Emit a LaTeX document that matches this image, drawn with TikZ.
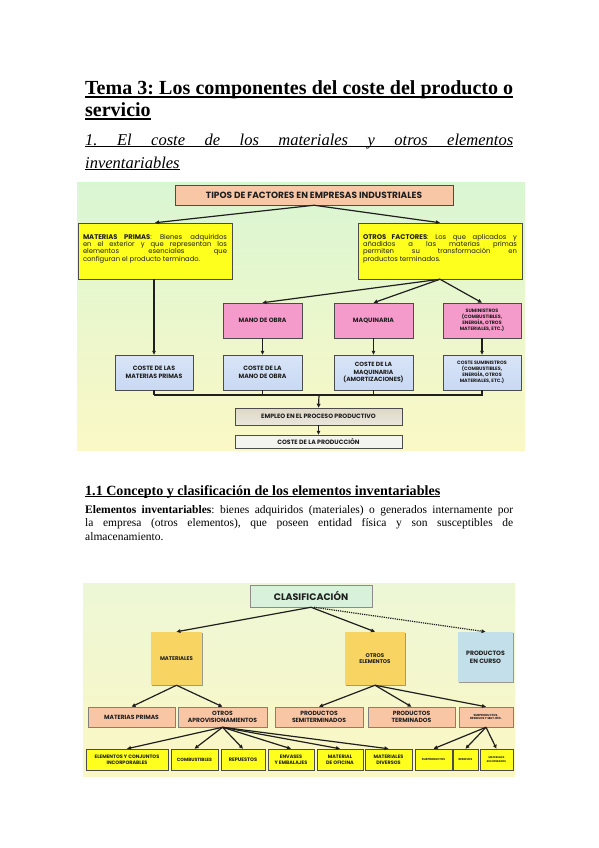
\documentclass[tikz,border=0pt]{standalone}
\usepackage{fontspec}
\setmainfont{Liberation Serif}
\newfontfamily\dg{Poppins}
\usetikzlibrary{arrows.meta,shadows}
\definecolor{txt}{HTML}{1E1E1E}
\definecolor{bgOneTop}{HTML}{D9F6D3}
\definecolor{bgOneBot}{HTML}{FBF8C6}
\definecolor{bgTwoTop}{HTML}{EDF7D6}
\definecolor{bgTwoBot}{HTML}{FBF7C4}
\definecolor{peach}{HTML}{F8C8A6}
\definecolor{yel}{HTML}{FFFF1E}
\definecolor{pinkb}{HTML}{F59BCB}
\definecolor{blueb}{HTML}{C8D9F3}
\definecolor{tan}{HTML}{DDD7C6}
\definecolor{paleg}{HTML}{F3F3F0}
\definecolor{mint}{HTML}{D7F1DB}
\definecolor{gold}{HTML}{F8D462}
\definecolor{skyb}{HTML}{C3E0EA}
\definecolor{salm}{HTML}{F8C5A5}
\newsavebox\ulbox
\newcommand\myul[1]{\sbox\ulbox{#1}\rlap{\rule[-0.14em]{\wd\ulbox}{0.07em}}\usebox\ulbox}
\newcommand\dsz[1]{\dg\bfseries\fontsize{#1}{\the\dimexpr #1pt*5/4\relax}\selectfont}
\begin{document}
\frenchspacing
\begin{tikzpicture}[x=1pt,y=-1pt,
  box/.style={draw=black!70, line width=0.5pt, align=center, inner sep=1pt, text=txt,
    drop shadow={shadow xshift=1.2pt, shadow yshift=-1.2pt, fill=black!55, opacity=0.7}},
  arr/.style={-{Triangle[length=4pt,width=3.6pt]}, line width=1.2pt, draw=black!88},
  ln/.style={line width=1.2pt, draw=black!88},
  dfont/.style={font=\dsz{#1}},
  para/.style={font=\dg\fontsize{6.8}{7.4}\selectfont, align=justify},
]
\useasboundingbox (0,0) rectangle (599,848);
\fill[white] (0,0) rectangle (599,848);

% ---------- headings ----------
\node[anchor=base west, inner sep=0] (t1) at (85,95)
  {\fontsize{20}{22}\selectfont\bfseries\myul{\makebox[428pt][s]{Tema 3: Los componentes del coste del producto o}}};
\node[anchor=base west, inner sep=0] (t2) at (85,117)
  {\fontsize{20}{22}\selectfont\bfseries\myul{servicio}};
\node[anchor=base west, inner sep=0] (s1) at (85,145)
  {\fontsize{16.5}{20}\selectfont\itshape\myul{\makebox[428pt][s]{1. El coste de los materiales y otros elementos}}};
\node[anchor=base west, inner sep=0] (s2) at (85,168)
  {\fontsize{16.5}{20}\selectfont\itshape\myul{inventariables}};

% ---------- diagram 1 ----------
\shade[top color=bgOneTop, bottom color=bgOneBot] (77,182) rectangle (525,450);

\node[box, fill=peach, minimum width=278pt, minimum height=20pt, dfont=9] (tipos) at (314,195)
  {TIPOS DE FACTORES EN EMPRESAS INDUSTRIALES};
\node[box, fill=yel, minimum width=154pt, minimum height=56pt] (mp) at (155,251) {};
\node[para, text width=144pt, inner sep=0, text=txt] (mpt) at (155,248.5)
  {\textbf{MATERIAS PRIMAS}: Bienes adquiridos\linebreak en el exterior y que representan los\linebreak elementos esenciales que\linebreak configuran el producto terminado.};
\node[box, fill=yel, minimum width=164pt, minimum height=56pt] (of) at (440,251) {};
\node[para, text width=154pt, inner sep=0, text=txt] (oft) at (440,248.5)
  {\textbf{OTROS FACTORES}: Los que aplicados y\linebreak añadidos a las materias primas\linebreak permiten su transformación en\linebreak productos terminados.};

\node[box, fill=pinkb, minimum width=79pt, minimum height=35pt, dfont=6.2] (mo) at (262.5,320.5) {MANO DE OBRA};
\node[box, fill=pinkb, minimum width=79pt, minimum height=35pt, dfont=6.2] (maq) at (373.5,320.5) {MAQUINARIA};
\node[box, fill=pinkb, minimum width=78pt, minimum height=35pt, dfont=4.8] (sum) at (482,320.5)
  {SUMINISTROS\\(COMBUSTIBLES,\\ENERGÍA, OTROS\\MATERIALES, ETC.)};

\node[box, top color=blueb!70!white, bottom color=blueb, minimum width=78pt, minimum height=35pt, dfont=6.2] (cmp) at (154,372.5)
  {COSTE DE LAS\\MATERIAS PRIMAS};
\node[box, top color=blueb!70!white, bottom color=blueb, minimum width=79pt, minimum height=35pt, dfont=6.2] (cmo) at (262.5,372.5)
  {COSTE DE LA\\MANO DE OBRA};
\node[box, top color=blueb!70!white, bottom color=blueb, minimum width=79pt, minimum height=35pt, dfont=6] (cmaq) at (373.5,372.5)
  {COSTE DE LA\\MAQUINARIA\\(AMORTIZACIONES)};
\node[box, top color=blueb!70!white, bottom color=blueb, minimum width=78pt, minimum height=35pt, dfont=4.8] (csum) at (482,372.5)
  {COSTE SUMINISTROS\\(COMBUSTIBLES,\\ENERGÍA, OTROS\\MATERIALES, ETC.)};

\node[box, top color=tan, bottom color=tan!60!white, minimum width=167pt, minimum height=17pt, dfont=6.2] (emp) at (318.5,416.5)
  {EMPLEO EN EL PROCESO PRODUCTIVO};
\node[box, fill=paleg, minimum width=167pt, minimum height=13pt, dfont=6.2] (cprod) at (318.5,441.5)
  {COSTE DE LA PRODUCCIÓN};

\draw[arr] (tipos.south) -- (mp.north);
\draw[arr] (tipos.south) -- (of.north);
\draw[arr] (of.south) -- (mo.north);
\draw[arr] (of.south) -- (maq.north);
\draw[arr] (of.south) -- (sum.north);
\draw[arr] (cmp.north |- mp.south) -- (cmp.north);
\draw[arr] (mo.south) -- (cmo.north);
\draw[arr] (maq.south) -- (cmaq.north);
\draw[arr] (sum.south) -- (csum.north);
\coordinate (busL) at (154,395);
\coordinate (busR) at (483,395);
\coordinate (busM) at (319,395);
\draw[ln] (cmp.south) -- (cmp.south |- busL);
\draw[ln] (cmo.south) -- (cmo.south |- busL);
\draw[ln] (cmaq.south) -- (cmaq.south |- busL);
\draw[ln] (csum.south) -- (csum.south |- busL);
\draw[ln] (busL) -- (busR);
\draw[arr] (busM) -- (emp.north);
\draw[arr] (emp.south) -- (cprod.north);

% ---------- section 1.1 ----------
\node[anchor=base west, inner sep=0] (h11) at (85,495)
  {\bfseries\myul{\resizebox{355pt}{!}{1.1 Concepto y clasificación de los elementos inventariables}}};
\node[anchor=base west, inner sep=0] (p1) at (85,513)
  {\fontsize{11.5}{13.5}\selectfont\makebox[428pt][s]{\textbf{Elementos inventariables}: bienes adquiridos (materiales) o generados internamente por}};
\node[anchor=base west, inner sep=0] (p2) at (85,526.5)
  {\fontsize{11.5}{13.5}\selectfont\makebox[428pt][s]{la empresa (otros elementos), que poseen entidad física y son susceptibles de}};
\node[anchor=base west, inner sep=0] (p3) at (85,540)
  {\fontsize{11.5}{13.5}\selectfont almacenamiento.};

% ---------- diagram 2 ----------
\shade[top color=bgTwoTop, bottom color=bgTwoBot] (83,583) rectangle (515,776);

\node[box, fill=mint, draw=black!45, minimum width=122pt, minimum height=22pt, dfont=9.5] (clas) at (311,596) {CLASIFICACIÓN};
\node[box, fill=gold, draw=none, minimum width=51pt, minimum height=53pt, dfont=5.4] (mat) at (176.5,658.5) {MATERIALES};
\node[box, fill=gold, draw=none, minimum width=60pt, minimum height=53pt, dfont=5.4] (otr) at (375,658.5) {OTROS\\ELEMENTOS};
\node[box, fill=skyb, draw=none, minimum width=55pt, minimum height=50pt, dfont=6.2] (pec) at (485.5,657) {PRODUCTOS\\EN CURSO};

\node[box, fill=salm, draw=black!50, minimum width=87pt, minimum height=20pt, dfont=6] (r2mp) at (131.5,717) {MATERIAS PRIMAS};
\node[box, fill=salm, draw=black!50, minimum width=89pt, minimum height=20pt, dfont=6] (r2oa) at (222.5,717) {OTROS\\APROVISIONAMIENTOS};
\node[box, fill=salm, draw=black!50, minimum width=88pt, minimum height=20pt, dfont=6] (r2ps) at (319,717) {PRODUCTOS\\SEMITERMINADOS};
\node[box, fill=salm, draw=black!50, minimum width=87pt, minimum height=20pt, dfont=6] (r2pt) at (411.5,717) {PRODUCTOS\\TERMINADOS};
\node[box, fill=salm, draw=black!50, minimum width=54pt, minimum height=20pt, dfont=2.9] (r2sub) at (486,717) {SUBPRODUCTOS,\\RESIDUOS Y MAT. REC.};

\node[box, fill=yel, minimum width=82pt, minimum height=21pt, dfont=4.9] (b1) at (127,759.5) {ELEMENTOS Y CONJUNTOS\\INCORPORABLES};
\node[box, fill=yel, minimum width=47pt, minimum height=21pt, dfont=4.6] (b2) at (194.5,759.5) {COMBUSTIBLES};
\node[box, fill=yel, minimum width=44pt, minimum height=21pt, dfont=5] (b3) at (243,759.5) {REPUESTOS};
\node[box, fill=yel, minimum width=46pt, minimum height=21pt, dfont=4.9] (b4) at (291,759.5) {ENVASES\\Y EMBALAJES};
\node[box, fill=yel, minimum width=46pt, minimum height=21pt, dfont=4.9] (b5) at (340,759.5) {MATERIAL\\DE OFICINA};
\node[box, fill=yel, minimum width=47pt, minimum height=21pt, dfont=4.9] (b6) at (388.5,759.5) {MATERIALES\\DIVERSOS};
\node[box, fill=yel, minimum width=37pt, minimum height=21pt, dfont=2.8] (b7) at (433.5,759.5) {SUBPRODUCTOS};
\node[box, fill=yel, minimum width=25pt, minimum height=21pt, dfont=2.8] (b8) at (465.5,759.5) {RESIDUOS};
\node[box, fill=yel, minimum width=33pt, minimum height=21pt, dfont=2.6] (b9) at (496.5,759.5) {MATERIALES\\RECUPERADOS};

\draw[arr] (clas.south) -- (mat.north);
\draw[arr] (clas.south) -- (otr.north);
\draw[arr, densely dotted] ([xshift=3pt]clas.south) -- (pec.north);
\draw[arr] (mat.south) -- (r2mp.north);
\draw[arr] (mat.south) -- (r2oa.north);
\draw[arr] (otr.south) -- (r2ps.north);
\draw[arr] (otr.south) -- (r2pt.north);
\draw[arr] (otr.south) -- (r2sub.north);
\foreach \b in {b1,b2,b3,b4,b5,b6} \draw[arr] (r2oa.south) -- (\b.north);
\foreach \b in {b7,b8,b9} \draw[arr] (r2sub.south) -- (\b.north);
\end{tikzpicture}
\end{document}
